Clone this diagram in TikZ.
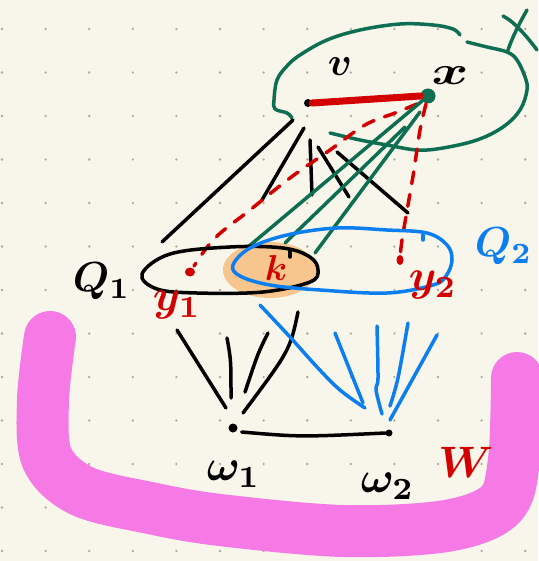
\documentclass[tikz,border=0pt]{standalone}
\usetikzlibrary{calc}
\definecolor{bg}{RGB}{248,246,234}
\definecolor{gridc}{RGB}{170,170,164}
\definecolor{hgreen}{RGB}{14,110,82}
\definecolor{hred}{RGB}{210,0,0}
\definecolor{hblue}{RGB}{12,126,240}
\definecolor{horange}{RGB}{246,198,142}
\definecolor{hpink}{RGB}{245,122,229}
\begin{document}
\begin{tikzpicture}[x=1pt,y=-1pt, line cap=round, line join=round,
  pen/.style={line width=3.5pt},
  dashpen/.style={pen, hred, dash pattern=on 12pt off 11pt},
  dotnode/.style={circle, fill, inner sep=0pt},
  lab/.style={inner sep=0pt, font=\normalsize\boldmath, scale=#1/10},
  lab/.default=30]
\fill[bg] (0,0) rectangle (538,561);
\useasboundingbox (0,0) rectangle (538,561);
% dot grid
\foreach \i in {0,...,12}{\foreach \j in {0,...,12}{
  \fill[gridc] ({2+43.6*\i},{29+43.5*\j}) circle (1.3);}}
% pink U
\draw[hpink, line width=52pt] plot[smooth, tension=0.55] coordinates
  {(50,337) (43,400) (47,458) (82,491) (150,508) (220,520) (343,531) (446,526) (500,505) (514,460) (517,378)};
% orange blob
\fill[horange] (270,270) ellipse [x radius=47, y radius=28];
% key points
\node[dotnode, minimum size=8pt] (vdot) at (308,103) {};
\node[dotnode, fill=hgreen, minimum size=15pt] (xdot) at (428,96) {};
\coordinate (y1) at (190,272);
\coordinate (y2) at (400,260);
\node[dotnode, minimum size=9pt] (w1) at (233,428) {};
\node[dotnode, minimum size=7pt] (w2) at (389,433) {};
% green blob X
\draw[pen, hgreen] plot[smooth, tension=0.6] coordinates
  {(292,118) (287,113) (275,109) (274,100) (277,80) (287,66) (300,55) (327,40) (360,30) (400,24) (433,25) (453,29) (460,35)};
\draw[pen, hgreen] plot[smooth, tension=0.6] coordinates
  {(467,42) (487,47) (507,52) (517,60) (525,77) (527,90) (520,110) (503,127) (477,140) (443,148) (417,150) (387,145) (360,140) (330,133)};
% X label
\draw[pen, hgreen] (503,16) .. controls (515,22) and (528,38) .. (537,50);
\draw[pen, hgreen] (527,10) .. controls (520,22) and (512,38) .. (508,50);
% black lines from v
\draw[pen] (293,120) -- (162,242);
\draw[pen] (304,128) -- (262,200);
\draw[pen] (310,140) -- (312,195);
\draw[pen] (318,147) -- (349,197);
\draw[pen] (337,152) -- (408,213);
% red thick line
\draw[hred, line width=7pt] (vdot.east) -- (xdot.west);
% red dashed
\draw[dashpen] plot[smooth, tension=0.6] coordinates
  {(417,104) (395,113) (365,125) (330,150) (290,178) (250,210) (215,238) (194,266)};
\draw[dashpen] plot[smooth, tension=0.6] coordinates
  {(426,104) (420,130) (414,170) (408,205) (402,240) (400,258)};
\fill[hred] (y1) ellipse [x radius=5, y radius=4.5];
\fill[hred] (y2) ellipse [x radius=3.5, y radius=5];
% green lines
\draw[pen, hgreen] (xdot) -- (248,247);
\draw[pen, hgreen] (420,112) -- (315,253);
\draw[pen, hgreen] (405,127) -- (285,243);
% Q1
\draw[pen] plot[smooth cycle, tension=0.6] coordinates
  {(142,274) (170,254) (230,247) (283,248) (310,257) (318,270) (310,282) (263,292) (197,293) (157,289)};
\draw[pen] (290,250) -- (290,257);
% Q2
\draw[pen, hblue] plot[smooth cycle, tension=0.6] coordinates
  {(233,265) (250,248) (287,235) (337,228) (387,230) (427,233) (447,245) (452,260) (446,276) (433,285) (387,293) (320,290) (270,285) (240,276)};
\draw[pen, hblue] (423,235) -- (423,240);
% lines to w1
\draw[pen] (177,330) -- (226,408);
\draw[pen] (227,338) .. controls (231,360) .. (231,398);
\draw[pen] (268,333) .. controls (258,353) .. (245,392);
\draw[pen] (298,312) .. controls (290,350) .. (243,413);
% blue lines to w2
\draw[pen, hblue] plot[smooth, tension=0.6] coordinates {(260,305) (290,337) (317,367) (340,390) (365,408)};
\draw[pen, hblue] (335,333) -- (363,403);
\draw[pen, hblue] plot[smooth, tension=0.5] coordinates {(377,326) (378,378) (376,390) (382,414)};
\draw[pen, hblue] plot[smooth, tension=0.5] coordinates {(408,323) (398,378) (390,406)};
\draw[pen, hblue] (437,335) -- (390,420);
% w1 -- w2
\draw[pen] (w1.east) ++(4,4) .. controls (300,437) .. (w2.west);
% labels
\node[lab=40] (vlab) at (340,67) {$v$};
\node[lab=40, xscale=1.4] (xlab) at (450,76) {$x$};
\node[lab=42, anchor=south west] (q1lab) at (72,301) {$Q_1$};
\node[lab=42, anchor=south west, text=hblue] (q2lab) at (474,266) {$Q_2$};
\node[lab=44, anchor=south west, text=hred] (y1lab) at (152,320) {$y_1$};
\node[lab=44, anchor=south west, text=hred] (y2lab) at (408,300) {$y_2$};
\node[lab=36, text=hred] (klab) at (276,268) {$k$};
\node[lab=44, anchor=south west] (w1lab) at (206,488) {$\omega_1$};
\node[lab=44, anchor=south west] (w2lab) at (360,500) {$\omega_2$};
\node[lab=44, text=hred] (Wlab) at (466,462) {$W$};
\end{tikzpicture}
\end{document}
